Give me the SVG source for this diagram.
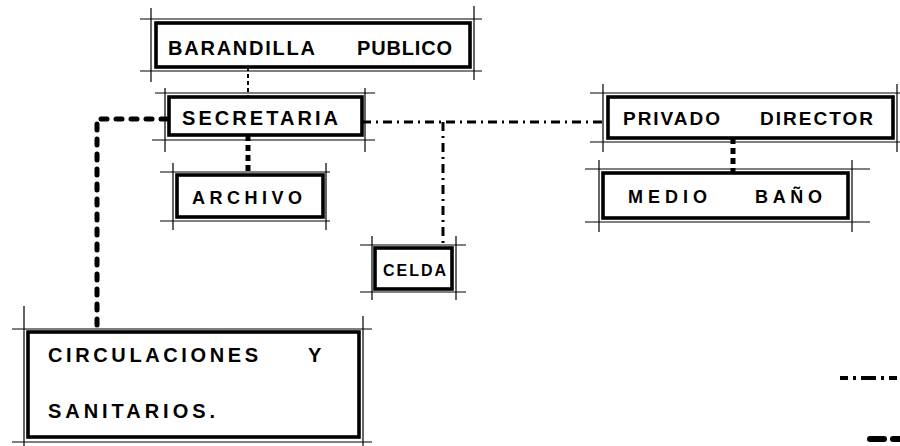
<svg xmlns="http://www.w3.org/2000/svg" width="900" height="446" viewBox="0 0 900 446">
<style>
.box{fill:#fff;stroke:#000;stroke-width:3.6}
.guide{fill:none;stroke:#000;stroke-width:1.2}
.t{font-family:"Liberation Sans",Arial,sans-serif;font-weight:bold;fill:#000}
.thin{fill:none;stroke:#000;stroke-width:2;stroke-dasharray:4 3}
.heavy{fill:none;stroke:#000;stroke-width:5;stroke-linecap:round;stroke-dasharray:6 9}
.short{fill:none;stroke:#000;stroke-width:5;stroke-dasharray:6 4}
.dotdash{fill:none;stroke:#000;stroke-width:3;stroke-dasharray:9 5 2 5}
</style>
<rect width="900" height="446" fill="#fff"/>
<g id="connectors">
<path class="thin" d="M248 67 V97"/>
<path class="short" d="M248 135 V175"/>
<path class="heavy" d="M167 119 H97 V330"/>
<path class="dotdash" d="M362 122 H606"/>
<path class="dotdash" d="M443 122 V247"/>
<path class="short" d="M733 138 V173"/>
<path fill="none" stroke="#000" stroke-width="4" stroke-dasharray="8 5 3 5 15 5 3 5" d="M840 378 H900"/>
<path fill="none" stroke="#000" stroke-width="6" stroke-linecap="round" stroke-dasharray="14 9" d="M870 439 H900"/>
</g>
<g id="barandilla">
<path class="guide" d="M140 19 H482 M140 71 H482 M151 8 V82 M474 6 V80"/>
<rect class="box" x="156" y="23" width="314" height="44"/>
<text class="t" font-size="20" x="168" y="55" textLength="147" lengthAdjust="spacing">BARANDILLA</text>
<text class="t" font-size="20" x="357" y="55" textLength="95" lengthAdjust="spacing">PUBLICO</text>
</g>
<g id="secretaria">
<path class="guide" d="M155 93 H375 M152 140 H375 M165 88 V152 M365 88 V152"/>
<rect class="box" x="169" y="97" width="193" height="38"/>
<text class="t" font-size="20" x="182" y="125" textLength="156" lengthAdjust="spacing">SECRETARIA</text>
</g>
<g id="archivo">
<path class="guide" d="M160 172 H330 M160 221 H330 M173 163 V230 M326 163 V230"/>
<rect class="box" x="177" y="175" width="146" height="42"/>
<text class="t" font-size="18" x="192" y="204" textLength="110" lengthAdjust="spacing">ARCHIVO</text>
</g>
<g id="celda">
<path class="guide" d="M360 245 H466 M360 292 H466 M372 236 V300 M456 236 V300"/>
<rect class="box" x="375" y="248" width="77" height="41"/>
<text class="t" font-size="16" x="383" y="276" textLength="63" lengthAdjust="spacing">CELDA</text>
</g>
<g id="privado">
<path class="guide" d="M590 93 H900 M590 142 H900 M603 84 V152 M897 84 V152"/>
<rect class="box" x="608" y="97" width="285" height="41"/>
<text class="t" font-size="19" x="623" y="125" textLength="97" lengthAdjust="spacing">PRIVADO</text>
<text class="t" font-size="19" x="760" y="125" textLength="113" lengthAdjust="spacing">DIRECTOR</text>
</g>
<g id="medio-bano">
<path class="guide" d="M585 169 H870 M585 222 H870 M599 160 V232 M852 160 V232"/>
<rect class="box" x="603" y="173" width="245" height="45"/>
<text class="t" font-size="18" x="628" y="203" textLength="79" lengthAdjust="spacing">MEDIO</text>
<text class="t" font-size="18" x="755" y="203" textLength="67" lengthAdjust="spacing">BAÑO</text>
</g>
<g id="circulaciones">
<path class="guide" d="M12 329 H372 M12 442 H372 M24 306 V446 M363 316 V446"/>
<rect class="box" x="28" y="332" width="331" height="105"/>
<text class="t" font-size="20" x="48" y="362" textLength="210" lengthAdjust="spacing">CIRCULACIONES</text>
<text class="t" font-size="20" x="308" y="362">Y</text>
<text class="t" font-size="20" x="48" y="418" textLength="167" lengthAdjust="spacing">SANITARIOS.</text>
</g>
</svg>
